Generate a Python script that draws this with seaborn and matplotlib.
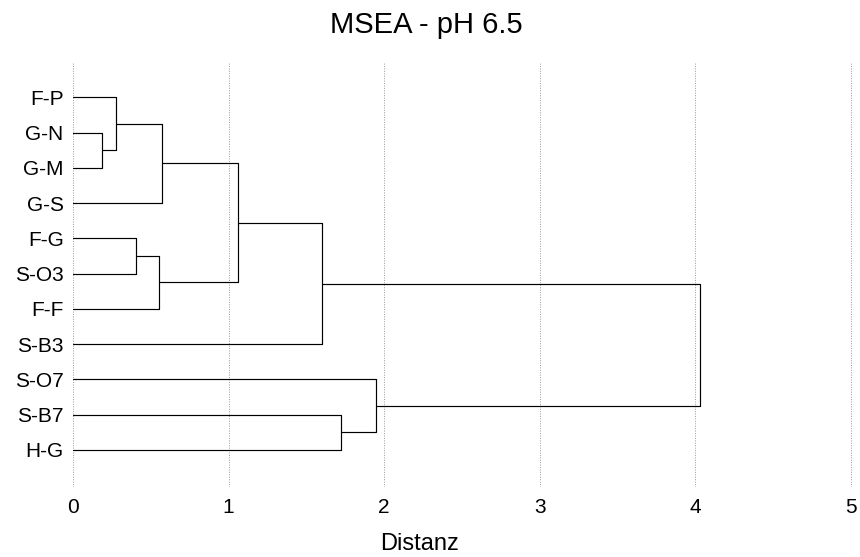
import numpy as np
import pandas as pd
import matplotlib
matplotlib.use("Agg")
import matplotlib.pyplot as plt
import seaborn as sns

# ---- data -------------------------------------------------------------
leaves = ["F-P", "G-N", "G-M", "G-S", "F-G", "S-O3", "F-F", "S-B3", "S-O7", "S-B7", "H-G"]
merge_names = ["c1", "c2", "c3", "c4", "c5", "c6", "c7", "c8", "c9", "c10"]
merge_left = ["G-N", "F-P", "c2", "F-G", "c4", "c3", "c6", "S-B7", "S-O7", "c7"]
merge_right = ["G-M", "c1", "G-S", "S-O3", "F-F", "c5", "S-B3", "H-G", "c8", "c9"]
merge_height = [0.184, 0.278, 0.571, 0.402, 0.554, 1.059, 1.603, 1.722, 1.947, 4.033]
x_ticks = [0, 1, 2, 3, 4, 5]
title = "MSEA - pH 6.5"
xlabel = "Distanz"

# ---- build dendrogram segments -----------------------------------------
pos = {name: (0.0, i + 1) for i, name in enumerate(leaves)}
rows = []
for k, (nm, l, r, h) in enumerate(zip(merge_names, merge_left, merge_right, merge_height)):
    xl, yl = pos[l]
    xr, yr = pos[r]
    pts = [(xl, yl), (h, yl), (h, yr), (xr, yr)]
    for j, (px, py) in enumerate(pts):
        rows.append({"x": px, "y": py, "seg": k, "order": j})
    pos[nm] = (h, (yl + yr) / 2.0)
df = pd.DataFrame(rows)

# ---- figure -------------------------------------------------------------
sns.set_style("white")
plt.rcParams["font.family"] = ["Liberation Sans", "DejaVu Sans"]
plt.rcParams["text.color"] = "black"
plt.rcParams["xtick.color"] = "black"
plt.rcParams["ytick.color"] = "black"

W, H = 860, 557
fig = plt.figure(figsize=(W / 100, H / 100), dpi=100)
x0_px, x5_px = 72.7, 851.0
top_px, bot_px = 62.0, 487.0
ax = fig.add_axes([x0_px / W - 0.004, 1 - bot_px / H, (x5_px - x0_px) / W + 0.008, (bot_px - top_px) / H])

sns.lineplot(data=df, x="x", y="y", units="seg", estimator=None, sort=False,
             color="black", linewidth=0.85, ax=ax, legend=False)

ax.set_xlim(-0.025, 5.025)
ax.set_ylim(12.05, 0)
ax.set_xticks(x_ticks)
ax.set_xticklabels([str(t) for t in x_ticks], fontsize=15)
ax.set_yticks(range(1, len(leaves) + 1))
ax.set_yticklabels(leaves, fontsize=15)
ax.tick_params(axis="both", length=0, colors="black")
ax.tick_params(axis="y", pad=4)
ax.tick_params(axis="x", pad=8)
for s in ax.spines.values():
    s.set_visible(False)
ax.xaxis.grid(True, linestyle=(0, (1, 1.5)), color="#9a9a9a", linewidth=0.7)
ax.yaxis.grid(False)
ax.set_axisbelow(True)
ax.set_xlabel("")
ax.set_ylabel("")

fig.text(426 / W, 1 - 25 / H, title, ha="center", va="center", fontsize=21, color="black")
fig.text(420 / W, 1 - 544 / H, xlabel, ha="center", va="center", fontsize=17, color="black")

fig.savefig("out.png", dpi=100)
